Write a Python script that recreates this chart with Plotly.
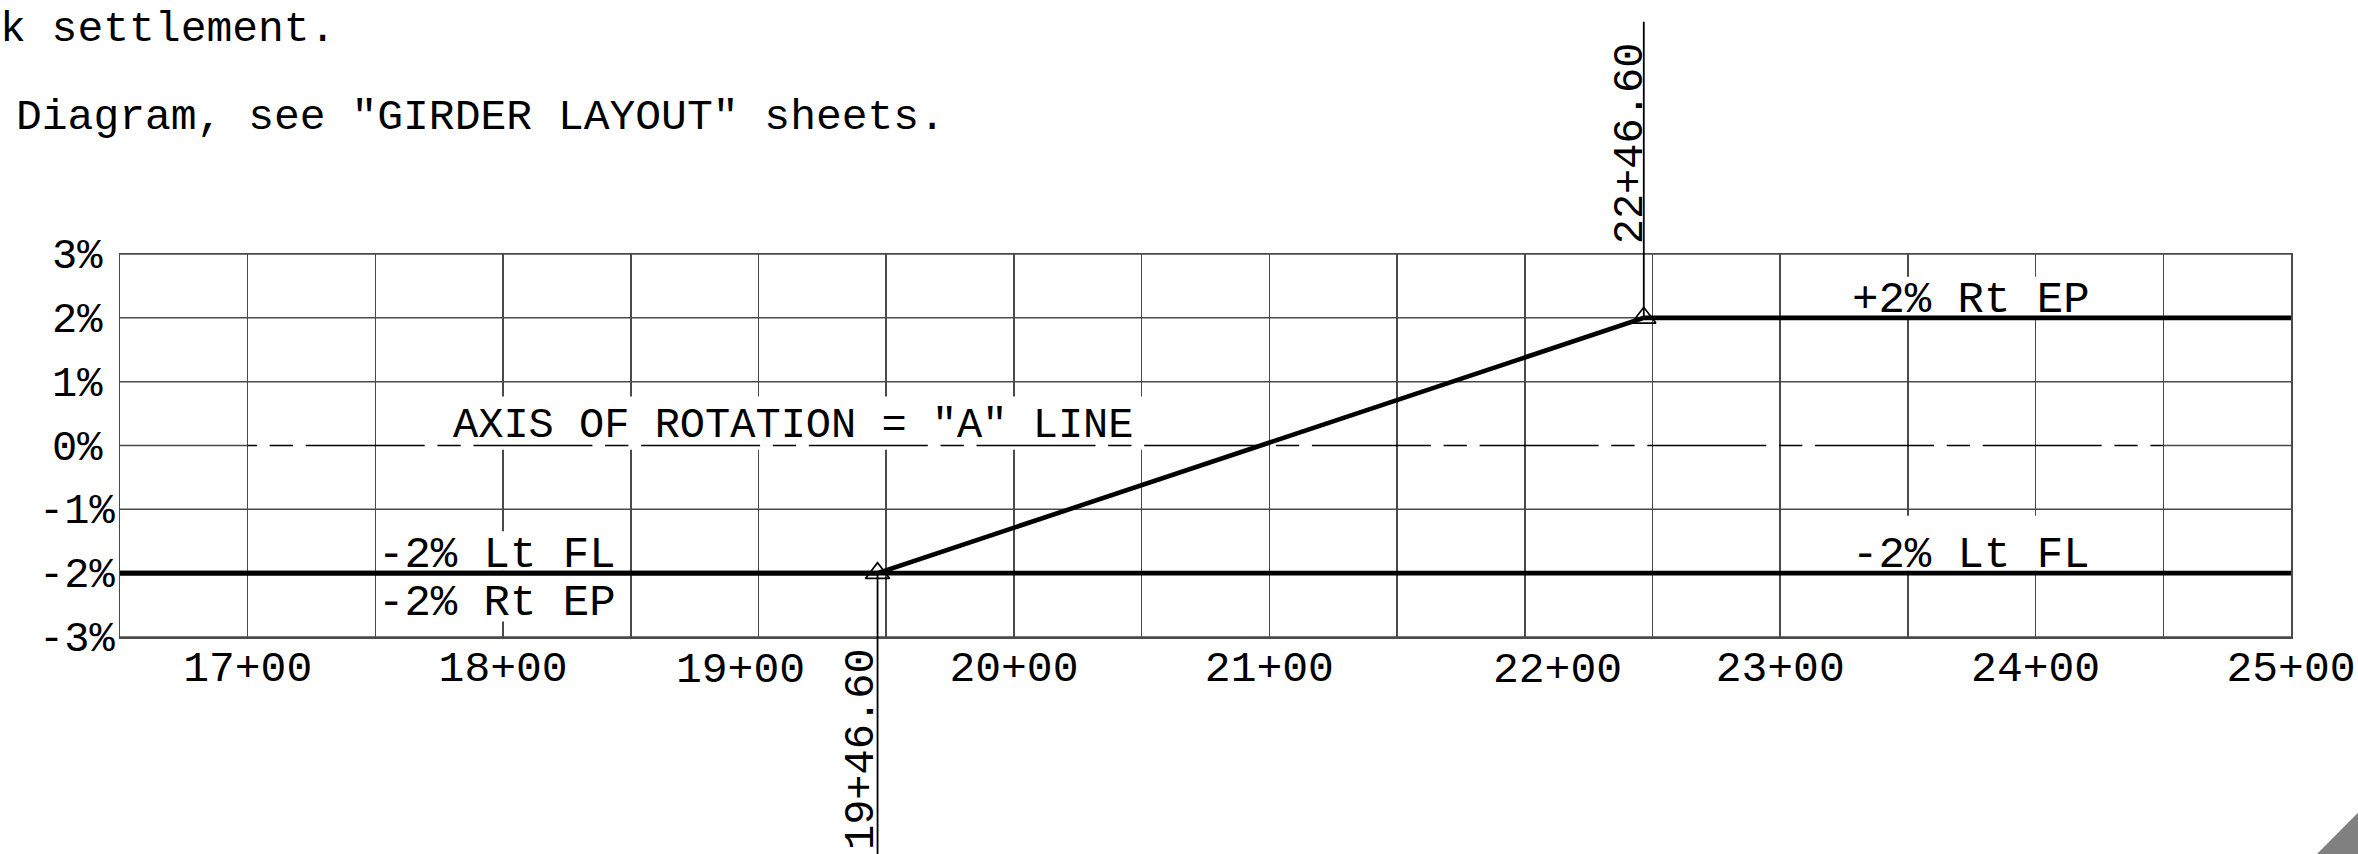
import plotly.graph_objects as go

# ---------------- data ----------------
grid_stations = [1650, 1700, 1750, 1800, 1850, 1900, 1950, 2000, 2050,
                 2100, 2150, 2200, 2250, 2300, 2350, 2400, 2450, 2500]
label_stations = [1700, 1800, 1900, 2000, 2100, 2200, 2300, 2400, 2500]
label_text = ["17+00", "18+00", "19+00", "20+00", "21+00",
              "22+00", "23+00", "24+00", "25+00"]
slope_ticks = [3, 2, 1, 0, -1, -2, -3]
slope_text = ["3%", "2%", "1%", "0%", "-1%", "-2%", "-3%"]

ep_station = [1650, 1946.6, 2246.6, 2500]     # right edge of pavement
ep_slope = [-2, -2, 2, 2]
fl_station = [1650, 2500]                     # left flow line
fl_slope = [-2, -2]
axis_station = [1700, 2450]                   # axis of rotation ("A" line)
axis_slope = [0, 0]
pvi_station = [1946.6, 2246.6]
pvi_slope = [-2, 2]
pvi_text = ["19+46.60", "22+46.60"]

note_lines = ["k settlement.", 'Diagram, see "GIRDER LAYOUT" sheets.']

# ---------------- style / layout ----------------
W, H = 2358, 854
ML, MR, MT, MB = 120, 67, 254, 217
PW, PH = W - ML - MR, H - MT - MB
X0, X1 = grid_stations[0], grid_stations[-1]
Y0, Y1 = min(slope_ticks), max(slope_ticks)
FONT = "Liberation Mono"
FS = 42
GRID = "#4a4a4a"
GW = 1.5


def px_x(p):
    return (p - ML) / PW


def px_y(p):
    return (H - MB - p) / PH


def yp(v):
    return (v - Y0) / (Y1 - Y0)


nudge = {"19+00": -18, "22+00": 33}

fig = go.Figure()

# axis of rotation (dashed CAD linetype)
fig.add_trace(go.Scatter(x=axis_station, y=axis_slope, mode="lines",
                         line=dict(color="black", width=1.6,
                                   dash="9.3px,12.7px,23.3px,12.7px,109.7px,0px"),
                         hoverinfo="skip", showlegend=False))
# left flow line
fig.add_trace(go.Scatter(x=fl_station, y=fl_slope, mode="lines",
                         line=dict(color="black", width=4.6),
                         showlegend=False))
# right edge of pavement
fig.add_trace(go.Scatter(x=ep_station, y=ep_slope, mode="lines",
                         line=dict(color="black", width=4.6),
                         showlegend=False))
# PVI markers
fig.add_trace(go.Scatter(x=pvi_station, y=pvi_slope, mode="markers",
                         marker=dict(symbol="triangle-up-open", size=21,
                                     color="black", line=dict(width=1.7)),
                         showlegend=False))

shapes = []
# horizontal grid (0% only at the ends, the A-line covers the middle)
for v in slope_ticks:
    if v == 0:
        segs = [(X0, axis_station[0]), (axis_station[1], X1)]
    else:
        segs = [(X0, X1)]
    for a, b in segs:
        shapes.append(dict(type="line", xref="x", yref="y", x0=a, x1=b,
                           y0=v, y1=v, layer="below",
                           line=dict(color=GRID, width=GW)))

# white masks behind the text labels (break the grid like CAD wipeouts)
masks = [
    (1775.2, 2053.3, 0.767, -0.068),
    (1751.0, 1848.0, -1.344, -1.961),
    (1751.0, 1848.0, -2.024, -2.756),
    (2327.4, 2420.0, 2.645, 2.03),
    (2327.4, 2420.0, -1.10, -1.962),
]
for a, b, c, d in masks:
    shapes.append(dict(type="rect", xref="x", yref="y", x0=a, x1=b, y0=d, y1=c,
                       layer="between", fillcolor="white",
                       line=dict(width=0)))

# station leader lines
for s, v in zip(pvi_station, pvi_slope):
    far = -0.6 if v < 0 else px_y(21.7)
    shapes.append(dict(type="line", xref="x", yref="paper", x0=s, x1=s,
                       y0=yp(v), y1=far, layer="above",
                       line=dict(color="black", width=1.8)))

# page corner mark
shapes.append(dict(type="path", xref="paper", yref="paper",
                   path=f"M {px_x(2358)},{px_y(812.7)} L {px_x(2358)},{px_y(856)} "
                        f"L {px_x(2315)},{px_y(856)} Z",
                   fillcolor="#808080", line=dict(width=0), layer="above"))

ann = []


def text(t, x, y, xref="x", yref="y", xanchor="left", size=FS, **kw):
    ann.append(dict(text=t, x=x, y=y, xref=xref, yref=yref, xanchor=xanchor,
                    yanchor="middle", showarrow=False,
                    font=dict(family=FONT, size=size, color="black"),
                    borderpad=0, **kw))


text("AXIS OF ROTATION = \"A\" LINE", 1780.0, 0.312)
text("-2% Lt FL", 1750.8, -1.72, size=44)
text("-2% Rt EP", 1750.8, -2.47, size=44)
text("+2% Rt EP", 2327.6, 2.285, size=44)
text("-2% Lt FL", 2327.6, -1.72, size=44)

# station call-outs (rotated)
text(pvi_text[0], pvi_station[0], px_y(749.5), yref="paper", xanchor="center",
     textangle=-90, xshift=-16)
text(pvi_text[1], pvi_station[1], px_y(143.5), yref="paper", xanchor="center",
     textangle=-90, xshift=-13)

# partial general notes at top
text(note_lines[0], px_x(-1), px_y(29), xref="paper", yref="paper", size=43)
text(note_lines[1], px_x(15.4), px_y(117.3), xref="paper", yref="paper",
     size=43)

# slope labels (CAD text is centre-justified)
for v, t in zip(slope_ticks, slope_text):
    text(t, px_x(77), v, xref="paper", yref="y", xanchor="center", yshift=-3)

# nudged station tick labels
for s, t in zip(label_stations, label_text):
    if t in nudge:
        ann.append(dict(text=t, x=s, y=0, xref="x", yref="paper",
                        xanchor="center", yanchor="top", showarrow=False,
                        font=dict(family=FONT, size=43, color="black"),
                        borderpad=0, xshift=nudge[t], yshift=-8))

tick_text = []
for s in grid_stations:
    if s in label_stations:
        t = label_text[label_stations.index(s)]
        tick_text.append("" if t in nudge else t)
    else:
        tick_text.append("")

fig.update_layout(
    width=W, height=H,
    margin=dict(l=ML, r=MR, t=MT, b=MB, autoexpand=False),
    paper_bgcolor="white", plot_bgcolor="white",
    showlegend=False,
    shapes=shapes, annotations=ann,
    xaxis=dict(range=[X0, X1], tickmode="array", tickvals=grid_stations,
               ticktext=tick_text, showgrid=True, gridcolor=GRID,
               gridwidth=GW, zeroline=False, showline=True, mirror=True,
               linecolor=GRID, linewidth=GW, ticks="",
               tickfont=dict(family=FONT, size=43, color="black"),
               ticklabelstandoff=-9, fixedrange=True),
    yaxis=dict(range=[Y0, Y1], tickmode="array", tickvals=slope_ticks,
               showticklabels=False, showgrid=False, zeroline=False,
               showline=True, mirror=True, linecolor=GRID, linewidth=GW,
               ticks="", fixedrange=True),
)

fig.write_html("out.html",
               config={"displayModeBar": False, "staticPlot": True},
               post_script="document.body.style.margin='0px';"
                           "document.body.style.overflow='hidden';")
